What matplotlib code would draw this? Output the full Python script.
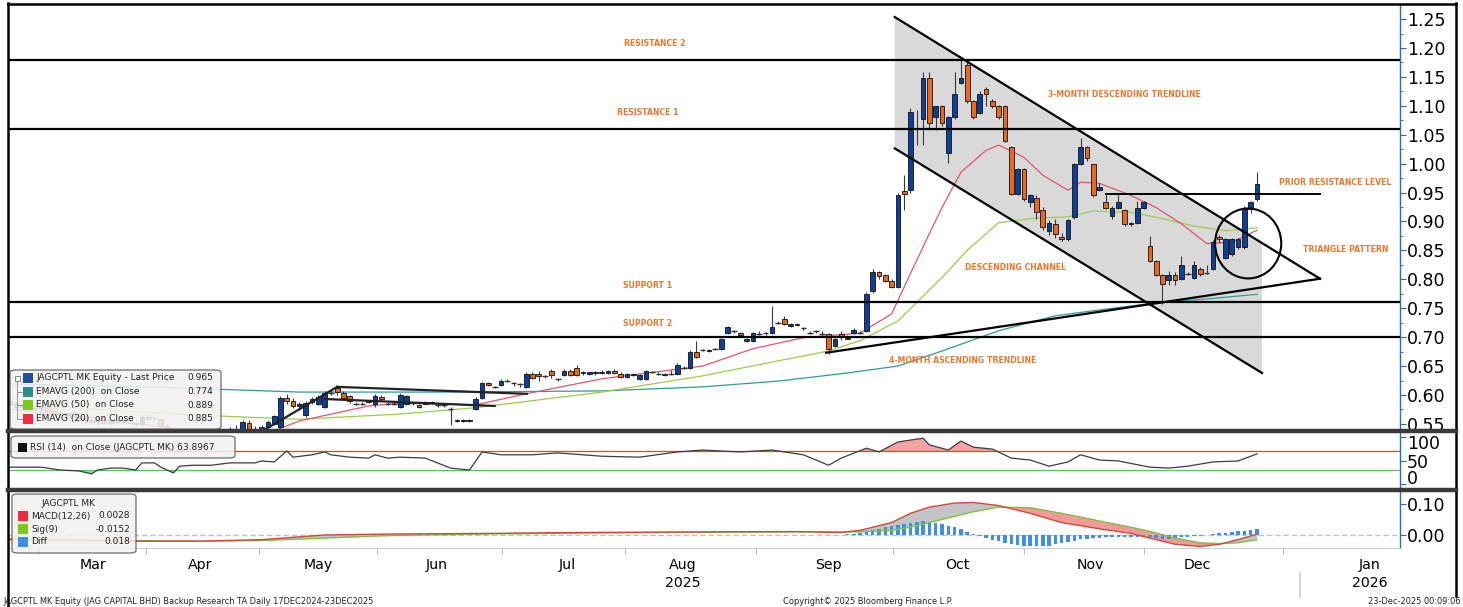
import matplotlib
matplotlib.use("Agg")
import matplotlib.pyplot as plt
import matplotlib.transforms as mtransforms
from matplotlib import font_manager
from matplotlib.lines import Line2D
from matplotlib.patches import Ellipse, FancyBboxPatch, Rectangle
import numpy as np

W, H = 1463, 607

# cores no estilo Bloomberg
COR_ALTA = "#0f3f95"
COR_BAIXA = "#e8681d"
COR_EMA200 = "#2f9aa0"
COR_EMA50 = "#9acd4a"
COR_EMA20 = "#e0566e"
COR_EIXO = "#2d68b3"
COR_NOTA = "#e8782c"

_nomes = {f.name for f in font_manager.fontManager.ttflist}
ESTREITA = "Liberation Sans Narrow" if "Liberation Sans Narrow" in _nomes else "DejaVu Sans"
ESC = 1.0 if ESTREITA == "Liberation Sans Narrow" else 0.78

# ---------------- dados: velas diárias (índice = pregão) ----------------
opens = [
    .590, .585, .580, .583, .578, .575, .581, .572, .568, .566,
    .569, .562, .560, .557, .553, .556, .551, .556, .553, .556,
    .552, .549, .562, .560, .558, .547, .540, .525, .535, .530,
    .533, .529, .532, .530, .535, .533, .542, .540, .552, .540,
    .538, .545, .550, .545, .595, .590, .581, .566, .587, .584,
    .579, .604, .612, .604, .598, .585, .585, .590, .585, .597,
    .585, .585, .580, .585, .586, .583, .587, .588, .583, .583,
    .576, .555, .555, .555, .576, .595, .620, .614, .618, .625,
    .621, .619, .614, .637, .636, .632, .642, .627, .635, .642,
    .647, .638, .637, .638, .640, .638, .642, .637, .631, .636,
    .628, .628, .640, .637, .636, .637, .637, .647, .647, .675,
    .678, .676, .680, .680, .707, .710, .707, .694, .694, .707,
    .707, .707, .725, .732, .720, .723, .715, .708, .710, .706,
    .706, .685, .706, .699, .707, .707, .711, .779, .812, .808,
    .797, .787, .952, .954, 1.062, 1.078, 1.148, 1.080, 1.099, 1.018,
    1.080, 1.139, 1.170, 1.108, 1.087, 1.129, 1.108, 1.099, 1.099, 1.028,
    .947, .990, .933, .940, .920, .883, .895, .874, .869, .907,
    .999, 1.028, .999, .954, .933, .909, .924, .919, .895, .898,
    .924, .858, .832, .808, .798, .808, .800, .811, .803, .818,
    .811, .818, .874, .837, .843, .855, .855, .922, .938,
]
highs = [
    .596, .590, .586, .588, .583, .582, .584, .576, .574, .571,
    .572, .568, .565, .562, .560, .559, .558, .560, .558, .558,
    .556, .565, .565, .562, .560, .550, .543, .538, .538, .536,
    .537, .535, .536, .538, .540, .545, .548, .556, .556, .546,
    .548, .557, .566, .598, .602, .594, .588, .590, .596, .600,
    .606, .608, .616, .607, .600, .588, .588, .592, .602, .600,
    .588, .588, .603, .600, .588, .585, .589, .590, .585, .585,
    .580, .558, .558, .558, .596, .622, .623, .616, .628, .628,
    .623, .621, .640, .640, .642, .634, .645, .630, .645, .645,
    .652, .642, .640, .642, .643, .644, .645, .640, .638, .638,
    .637, .644, .642, .639, .638, .643, .655, .650, .678, .694,
    .680, .679, .682, .699, .720, .712, .709, .699, .709, .710,
    .709, .754, .728, .736, .725, .725, .717, .711, .712, .710,
    .708, .699, .710, .703, .716, .710, .778, .818, .815, .810,
    .800, .950, .980, 1.097, 1.092, 1.158, 1.158, 1.099, 1.102, 1.082,
    1.158, 1.179, 1.180, 1.110, 1.125, 1.133, 1.111, 1.102, 1.102, 1.030,
    .993, .993, .948, .945, .925, .902, .905, .880, .905, 1.001,
    1.045, 1.030, 1.000, .966, .948, .926, .948, .921, .899, .935,
    .935, .875, .834, .810, .815, .812, .840, .813, .832, .822,
    .825, .868, .876, .872, .872, .872, .926, .935, .985,
]
lows = [
    .582, .578, .575, .576, .570, .571, .570, .565, .562, .561,
    .560, .556, .552, .549, .548, .549, .548, .551, .549, .550,
    .546, .547, .556, .557, .545, .535, .520, .522, .526, .525,
    .527, .524, .526, .528, .530, .531, .536, .538, .538, .532,
    .535, .543, .548, .543, .585, .578, .574, .562, .584, .582,
    .578, .600, .600, .592, .586, .582, .582, .586, .580, .590,
    .582, .582, .578, .583, .583, .578, .584, .585, .580, .580,
    .548, .553, .553, .553, .574, .593, .615, .612, .616, .623,
    .615, .614, .612, .628, .625, .630, .630, .624, .632, .632,
    .633, .635, .635, .634, .636, .636, .636, .629, .629, .632,
    .626, .626, .638, .635, .633, .635, .635, .645, .645, .664,
    .676, .674, .678, .678, .705, .708, .702, .692, .692, .704,
    .704, .705, .723, .721, .718, .719, .712, .705, .707, .703,
    .670, .683, .695, .696, .705, .705, .709, .777, .800, .795,
    .785, .785, .920, .950, 1.032, 1.033, 1.058, 1.058, 1.065, 1.001,
    1.078, 1.137, 1.105, 1.078, 1.085, 1.100, 1.097, 1.078, 1.037, .945,
    .945, .936, .925, .905, .885, .877, .872, .866, .866, .905,
    .997, 1.005, .943, .952, .921, .905, .922, .893, .893, .896,
    .922, .830, .805, .758, .790, .790, .798, .808, .801, .805,
    .810, .816, .862, .835, .840, .853, .853, .915, .936,
]
closes = [
    .585, .580, .583, .578, .575, .579, .572, .568, .566, .569,
    .562, .560, .557, .553, .556, .551, .556, .553, .556, .552,
    .549, .562, .558, .560, .547, .540, .525, .535, .530, .533,
    .529, .532, .530, .535, .533, .542, .540, .553, .540, .538,
    .545, .554, .563, .595, .590, .581, .584, .586, .593, .597,
    .604, .604, .605, .595, .589, .585, .585, .588, .598, .593,
    .585, .585, .600, .598, .586, .580, .585, .586, .583, .583,
    .576, .557, .557, .557, .593, .620, .618, .614, .625, .625,
    .621, .619, .637, .630, .632, .632, .634, .628, .642, .635,
    .635, .640, .639, .640, .638, .642, .638, .631, .637, .634,
    .635, .642, .640, .637, .634, .637, .652, .647, .675, .666,
    .678, .678, .680, .697, .718, .710, .704, .697, .707, .706,
    .707, .718, .725, .723, .723, .721, .715, .708, .710, .706,
    .680, .697, .700, .697, .713, .707, .775, .812, .805, .797,
    .787, .945, .948, 1.089, 1.060, 1.148, 1.070, 1.099, 1.070, 1.080,
    1.120, 1.148, 1.108, 1.080, 1.120, 1.120, 1.099, 1.080, 1.039, .948,
    .990, .938, .945, .917, .890, .898, .879, .869, .903, .999,
    1.028, 1.009, .945, .959, .924, .924, .933, .895, .898, .924,
    .933, .832, .808, .792, .808, .798, .824, .810, .825, .810,
    .811, .865, .869, .870, .870, .870, .924, .933, .965,
]

# médias móveis exponenciais (pregão, valor)
ema20_idx = [0, 14, 22, 30, 40, 46, 57, 62, 70, 74, 82, 94, 110, 118, 126, 135, 140,
             143, 146, 148, 151, 155, 157, 161, 164, 168, 170, 173, 178, 182, 186, 190, 194, 198]
ema20_val = [0.575, 0.560, 0.548, 0.535, 0.530, 0.555, 0.581, 0.586, 0.584, 0.583, 0.602,
             0.628, 0.650, 0.680, 0.699, 0.707, 0.740, 0.810, 0.879, 0.924, 0.985, 1.023,
             1.032, 1.011, 0.980, 0.954, 0.968, 0.966, 0.945, 0.924, 0.896, 0.862, 0.864, 0.885]
ema50_idx = [0, 14, 30, 46, 62, 74, 94, 110, 122, 130, 135, 141, 148, 152, 157, 163,
             168, 172, 178, 183, 188, 193, 198]
ema50_val = [0.585, 0.575, 0.565, 0.558, 0.567, 0.578, 0.605, 0.633, 0.659, 0.676, 0.694,
             0.728, 0.803, 0.850, 0.898, 0.906, 0.908, 0.918, 0.916, 0.905, 0.892, 0.884, 0.889]
ema200_idx = [0, 22, 46, 70, 94, 110, 122, 133, 141, 148, 157, 166, 173, 181, 189, 198]
ema200_val = [0.619, 0.614, 0.605, 0.605, 0.607, 0.614, 0.624, 0.638, 0.650, 0.676, 0.711,
              0.737, 0.747, 0.758, 0.765, 0.774]

# RSI(14)
rsi_idx = [0, 3, 5, 8, 11, 13, 14, 16, 18, 20, 21, 23, 24, 26, 27, 29, 32, 35, 39, 40, 42,
           44, 45, 48, 50, 51, 54, 57, 58, 60, 62, 66, 70, 73, 75, 78, 83, 87, 94, 100, 106,
           110, 116, 121, 126, 130, 132, 136, 138, 141, 143, 145, 146, 149, 151, 153, 156,
           159, 162, 165, 168, 170, 173, 176, 181, 184, 187, 191, 195, 198]
rsi_val = [36, 36, 36, 30, 28, 22, 30, 34, 34, 30, 45, 45, 36, 24, 38, 40, 40, 45, 45, 49, 47,
           70, 57, 62, 68, 62, 57, 55, 62, 55, 57, 55, 34, 30, 68, 62, 62, 66, 59, 57, 68,
           72, 68, 72, 62, 40, 55, 76, 68, 89, 93, 97, 83, 72, 91, 78, 74,
           55, 51, 38, 47, 62, 51, 49, 36, 34, 38, 47, 49, 63.9]

# MACD(12,26) e sinal(9)
macd_idx = [0, 10, 20, 30, 40, 50, 60, 75, 90, 110, 125, 132, 135, 140, 143, 146, 150, 153,
            157, 162, 167, 170, 173, 178, 181, 185, 189, 192, 195, 198]
macd_val = [-0.015, -0.018, -0.020, -0.020, -0.015, 0.000, 0.003, 0.005, 0.008, 0.010, 0.011,
            0.008, 0.015, 0.040, 0.070, 0.090, 0.103, 0.105, 0.095, 0.070, 0.040, 0.030,
            0.020, 0.005, -0.010, -0.030, -0.037, -0.030, -0.015, 0.0028]
sig_val = [-0.012, -0.015, -0.018, -0.020, -0.018, -0.010, -0.002, 0.003, 0.006, 0.009, 0.010,
           0.010, 0.010, 0.015, 0.025, 0.040, 0.060, 0.075, 0.090, 0.088, 0.070, 0.058,
           0.045, 0.025, 0.012, -0.010, -0.025, -0.028, -0.025, -0.0152]
diff_inicio = 130
diff_val = [
    0.000, 0.000, 0.000, 0.002, 0.004, 0.006, 0.010, 0.015, 0.020, 0.025,
    0.028, 0.032, 0.036, 0.040, 0.042, 0.044, 0.043, 0.040, 0.035, 0.030,
    0.025, 0.018, 0.010, 0.003, -0.004, -0.010, -0.016, -0.020, -0.025, -0.028,
    -0.032, -0.034, -0.036, -0.037, -0.036, -0.034, -0.030, -0.027, -0.022, -0.018,
    -0.014, -0.012, -0.010, -0.009, -0.008, -0.008, -0.008, -0.007, -0.007, -0.006,
    -0.006, -0.008, -0.010, -0.012, -0.012, -0.010, -0.008, -0.006, -0.004, -0.002,
    0.000, 0.003, 0.006, 0.008, 0.010, 0.012, 0.014, 0.016, 0.018,
]

# eixo de datas
meses = ["Mar", "Apr", "May", "Jun", "Jul", "Aug", "Sep", "Oct", "Nov", "Dec", "Jan"]
meses_pos = [13.2, 30.2, 49.0, 67.8, 88.6, 106.9, 129.9, 150.5, 171.5, 188.5, 215.9]
anos = ["2025", "2026"]
anos_pos = [106.9, 215.9]
virada_ano = 204.8

# anotações da análise técnica
niveis = [1.18, 1.06, 0.76, 0.70]
canal_sup_x, canal_sup_y = [140.5, 208.0], [1.2535, 0.801]
canal_inf_x, canal_inf_y = [140.5, 198.8], [1.0264, 0.638]
ascendente_x, ascendente_y = [129.6, 208.0], [0.673, 0.801]
resist_previa_x, resist_previa_y = [174.0, 208.0], [0.948, 0.948]
triang_maio = [([40.2, 52.0], [0.538, 0.614]), ([52.0, 82.1], [0.614, 0.602]),
               ([50.1, 77.0], [0.593, 0.581])]
circulo = (196.6, 0.862, 10.5, 0.121)
notas = [
    ("RESISTANCE 2", 102.4, 1.207), ("RESISTANCE 1", 101.3, 1.089),
    ("SUPPORT 1", 101.3, 0.789), ("SUPPORT 2", 101.3, 0.723),
    ("3-MONTH DESCENDING TRENDLINE", 177.0, 1.120), ("DESCENDING CHANNEL", 159.6, 0.820),
    ("4-MONTH ASCENDING TRENDLINE", 151.3, 0.659), ("PRIOR RESISTANCE LEVEL", 210.4, 0.967),
    ("TRIANGLE PATTERN", 212.0, 0.851),
]


def px(x, y):
    return x / W, 1 - y / H


def caixa(x0, y0, x1, y1):
    return [x0 / W, 1 - y1 / H, (x1 - x0) / W, (y1 - y0) / H]


fig = plt.figure(figsize=(W / 100, H / 100), dpi=100)
fig.patch.set_facecolor("white")
ax = fig.add_axes(caixa(8, 5, 1400, 431))
ax_rsi = fig.add_axes(caixa(8, 432, 1400, 489), sharex=ax)
ax_macd = fig.add_axes(caixa(8, 491, 1400, 548), sharex=ax)

for a in (ax, ax_rsi, ax_macd):
    for lado in ("top", "left", "bottom"):
        a.spines[lado].set_visible(False)
    a.spines["right"].set_color(COR_EIXO)
    a.spines["right"].set_linewidth(1.0)
    a.yaxis.tick_right()
    a.tick_params(axis="y", which="both", direction="out", color=COR_EIXO,
                  labelsize=12.5, pad=1)
    a.tick_params(axis="y", which="major", length=4)
    a.tick_params(axis="y", which="minor", length=2)
    a.tick_params(axis="x", which="both", bottom=False, labelbottom=False)

# ---------- painel principal ----------
x_all = np.arange(len(closes))
o = np.array(opens)
h = np.array(highs)
l = np.array(lows)
c = np.array(closes)

sup_fim = np.interp(canal_inf_x[1], canal_sup_x, canal_sup_y)
ax.fill([canal_inf_x[0], canal_inf_x[1], canal_inf_x[1], canal_inf_x[0]],
        [canal_sup_y[0], sup_fim, canal_inf_y[1], canal_inf_y[0]],
        color="#d9d9d9", zorder=0, lw=0)

ax.plot(ema200_idx, ema200_val, color=COR_EMA200, lw=0.9, zorder=2)
ax.plot(ema50_idx, ema50_val, color=COR_EMA50, lw=0.9, zorder=2)
ax.plot(ema20_idx, ema20_val, color=COR_EMA20, lw=0.9, zorder=2)

corpo = np.abs(c - o)
doji = corpo < 0.0015
cores = np.where(c >= o, COR_ALTA, COR_BAIXA)
ax.vlines(x_all, l, h, color="#3a3a3a", lw=0.8, zorder=3)
ax.bar(x_all[~doji], corpo[~doji], bottom=np.minimum(o, c)[~doji], width=0.74,
       color=cores[~doji], edgecolor="#111111", linewidth=0.6, zorder=4)
ax.hlines(c[doji], x_all[doji] - 0.45, x_all[doji] + 0.45, color="#333333", lw=1.0, zorder=4)

for n in niveis:
    ax.axhline(n, color="black", lw=1.6, zorder=5)
ax.plot(canal_sup_x, canal_sup_y, color="black", lw=1.6, zorder=5)
ax.plot(canal_inf_x, canal_inf_y, color="black", lw=1.6, zorder=5)
ax.plot(ascendente_x, ascendente_y, color="black", lw=1.6, zorder=5)
ax.plot(resist_previa_x, resist_previa_y, color="black", lw=1.4, zorder=5)
for xs, ys in triang_maio:
    ax.plot(xs, ys, color="#222222", lw=1.6, zorder=5)
ax.add_patch(Ellipse(circulo[:2], circulo[2], circulo[3], fill=False,
                     edgecolor="black", lw=1.5, zorder=6))
for txt, xt, yt in notas:
    ax.text(xt, yt, txt, color=COR_NOTA, fontsize=5.6, fontweight="bold",
            ha="center", va="center", zorder=7)

ax.set_xlim(-0.25, 220.7)
ax.set_ylim(0.5377, 1.2743)
ax.set_yticks(np.round(np.arange(0.55, 1.2501, 0.05), 2))
ax.set_yticks(np.round(np.arange(0.575, 1.25, 0.05), 3), minor=True)
ax.yaxis.set_major_formatter(matplotlib.ticker.FormatStrFormatter("%.2f"))

# ---------- RSI ----------
rsi_x = np.array(rsi_idx)
rsi_y = np.array(rsi_val)
ax_rsi.axhline(70, color="#d9453f", lw=0.9)
ax_rsi.axhline(30, color="#5cc15c", lw=0.9)
ax_rsi.fill_between(rsi_x, rsi_y, 70, where=rsi_y > 70, interpolate=True,
                    color="#f2a3a3", lw=0)
ax_rsi.fill_between(rsi_x, rsi_y, 30, where=rsi_y < 30, interpolate=True,
                    color="#9fe39f", lw=0)
ax_rsi.plot(rsi_x, rsi_y, color="#3c3c3c", lw=0.9)
ax_rsi.set_ylim(-10, 110)
ax_rsi.set_yticks([0, 50, 100])
# como no terminal, os rótulos extremos ficam recolhidos para dentro do painel
for lab, dy in zip(ax_rsi.get_yticklabels(), (5, 0, -4)):
    lab.set_transform(lab.get_transform()
                      + mtransforms.ScaledTranslation(0, dy / 72, fig.dpi_scale_trans))

# ---------- MACD ----------
mx = np.array(macd_idx)
mv = np.array(macd_val)
sv = np.array(sig_val)
ax_macd.axhline(0, color="#b8c2d6", lw=1.0, ls=(0, (4, 2)))
ax_macd.fill_between(mx, mv, sv, where=mv >= sv, interpolate=True, color="#c4c4c4", lw=0)
ax_macd.fill_between(mx, mv, sv, where=mv < sv, interpolate=True, color="#f29a9a", lw=0)
ax_macd.bar(np.arange(diff_inicio, diff_inicio + len(diff_val)), diff_val, width=0.55,
            color="#3f8fe8", zorder=3)
ax_macd.plot(mx, sv, color="#7cc242", lw=1.0, zorder=4)
ax_macd.plot(mx, mv, color="#cf4a3c", lw=1.0, zorder=4)
ax_macd.set_ylim(-0.042, 0.142)
ax_macd.set_yticks([0.0, 0.10])
ax_macd.yaxis.set_major_formatter(matplotlib.ticker.FormatStrFormatter("%.2f"))
ax_macd.spines["bottom"].set_visible(True)
ax_macd.spines["bottom"].set_color("#c8d0dc")

ax_macd.set_xticks(meses_pos)
ax_macd.set_xticklabels(meses)
fronteiras = [(a + b) / 2 for a, b in zip(meses_pos[:-1], meses_pos[1:])]
ax_macd.set_xticks([meses_pos[0] - (meses_pos[1] - meses_pos[0]) / 2] + fronteiras, minor=True)
ax_macd.tick_params(axis="x", which="major", bottom=False, labelbottom=True, pad=4)
ax_macd.tick_params(axis="x", which="minor", bottom=True, length=4, color="#aaaaaa")
for lab in ax_macd.get_xticklabels():
    lab.set_fontfamily(ESTREITA)
    lab.set_fontsize(13 * ESC)

trans_data_fig = mtransforms.blended_transform_factory(ax_macd.transData, fig.transFigure)
for ano, xa in zip(anos, anos_pos):
    fig.text(xa, 1 - 583 / H, ano, transform=trans_data_fig, ha="center", va="center",
             fontsize=13 * ESC, family=ESTREITA)
fig.add_artist(Line2D([virada_ano, virada_ano], [1 - 573 / H, 1 - 597 / H],
                      transform=trans_data_fig, color="#d0d0d0", lw=1.2))

# ---------- moldura e separadores ----------
borda = dict(color="black", lw=1.8, transform=fig.transFigure)
fig.add_artist(Line2D([8 / W, 8 / W], [1 - 3 / H, 0], **borda))
fig.add_artist(Line2D([8 / W, 1456 / W], [1 - 4 / H, 1 - 4 / H], **borda))
fig.add_artist(Line2D([1456 / W, 1456 / W], [1 - 3 / H, 1 - 596 / H], **borda))
for ysep in (431, 490):
    fig.add_artist(Line2D([8 / W, 1456 / W], [1 - ysep / H, 1 - ysep / H],
                          color="#3a3a3a", lw=3.2, transform=fig.transFigure))


# ---------- legendas ----------
def caixa_legenda(x0, y0, x1, y1):
    fx0, fy1 = px(x0, y1)
    fig.add_artist(FancyBboxPatch((fx0, fy1), (x1 - x0) / W, (y1 - y0) / H,
                                  boxstyle="round,pad=0,rounding_size=0.004",
                                  transform=fig.transFigure, facecolor="#f2f2f2",
                                  edgecolor="#5a5a5a", lw=0.9, alpha=0.88, zorder=10))


def quadrado(x, y, cor, lado=10):
    fx, fy = px(x, y + lado / 2)
    fig.add_artist(Rectangle((fx, fy), lado / W, lado / H, transform=fig.transFigure,
                             facecolor=cor, edgecolor="none", zorder=11))


def texto(x, y, s, ha="left", tam=8.3, **kw):
    fx, fy = px(x, y)
    fig.text(fx, fy, s, ha=ha, va="center", fontsize=tam * ESC, family=ESTREITA,
             color="#222222", zorder=12, **kw)


caixa_legenda(10, 370, 221, 429)
leg_main = [("JAGCPTL MK Equity - Last Price", "0.965", "#1f4e9c"),
            ("EMAVG (200)  on Close", "0.774", "#2b8c8c"),
            ("EMAVG (50)  on Close", "0.889", "#7dc81e"),
            ("EMAVG (20)  on Close", "0.885", "#ee2b47")]
for k, (nome, val, cor) in enumerate(leg_main):
    yk = 378 + k * 13.5
    quadrado(23, yk, cor)
    texto(36, yk, nome)
    texto(213, yk, val, ha="right")
    if k > 0:
        fig.add_artist(Line2D([17 / W, 22 / W], [1 - yk / H, 1 - yk / H],
                              color="#888888", lw=0.6, transform=fig.transFigure, zorder=11))
fig.add_artist(Line2D([17 / W, 17 / W], [1 - 381 / H, 1 - 418.5 / H], color="#888888",
                      lw=0.6, transform=fig.transFigure, zorder=11))
fig.add_artist(Rectangle(px(14.5, 381), 5 / W, 5 / H, transform=fig.transFigure,
                         facecolor="white", edgecolor="#777777", lw=0.6, zorder=11))

caixa_legenda(11, 436, 235, 458)
quadrado(18, 447, "#111111", lado=9)
texto(30, 447, "RSI (14)  on Close (JAGCPTL MK) 63.8967")

caixa_legenda(12, 494, 136, 553)
texto(68, 503, "JAGCPTL MK", ha="center")
leg_macd = [("MACD(12,26)", "0.0028", "#ee2b47"), ("Sig(9)", "-0.0152", "#7dc81e"),
            ("Diff", "0.018", "#3f8fe8")]
for k, (nome, val, cor) in enumerate(leg_macd):
    yk = 516 + k * 13
    quadrado(18, yk, cor)
    texto(31, yk, nome)
    texto(130, yk, val, ha="right")

# ---------- rodapé ----------
texto(3, 601, "JAGCPTL MK Equity (JAG CAPITAL BHD) Backup Research TA Daily 17DEC2024-23DEC2025",
      tam=7.6)
texto(868, 601, "Copyright\u00a9 2025 Bloomberg Finance L.P.", ha="center", tam=7.6)
texto(1460, 601, "23-Dec-2025 00:09:06", ha="right", tam=7.6)

fig.savefig("out.png", dpi=100)
